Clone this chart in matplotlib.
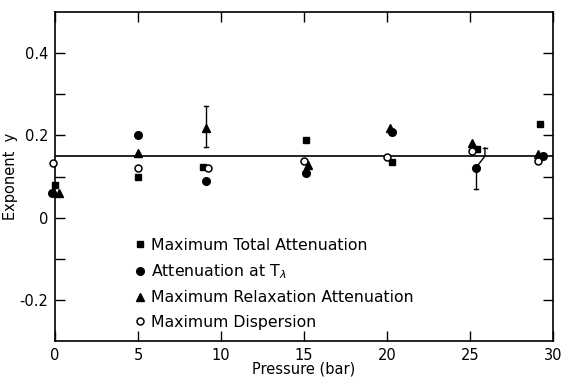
import matplotlib
matplotlib.use("Agg")
import matplotlib.pyplot as plt
from matplotlib.ticker import MultipleLocator, FixedFormatter, FixedLocator

# Data
sq_x = [0.0, 5.0, 8.9, 15.1, 20.3, 25.45, 29.2]
sq_y = [0.079, 0.100, 0.124, 0.190, 0.135, 0.168, 0.229]

ci_x = [-0.2, 5.0, 9.1, 15.1, 20.3, 25.35, 29.4]
ci_y = [0.059, 0.200, 0.090, 0.110, 0.209, 0.121, 0.151]

tr_x = [0.25, 5.0, 9.08, 15.25, 20.2, 25.1, 29.1]
tr_y = [0.059, 0.158, 0.219, 0.129, 0.219, 0.182, 0.156]

op_x = [-0.1, 5.0, 9.2, 15.0, 20.0, 25.1, 29.1]
op_y = [0.133, 0.121, 0.120, 0.137, 0.148, 0.162, 0.139]

tri_err_x = 9.08
tri_err_lo = 0.172
tri_err_hi = 0.271
ci_err_x = 25.35
ci_err_lo = 0.071
ci_err_top_x = 25.9
ci_err_top = 0.170

mean_y = 0.15

fig = plt.figure(figsize=(5.62, 3.79), dpi=100)
ax = fig.add_axes([0.098, 0.100, 0.886, 0.868])

ax.axhline(mean_y, color="black", lw=1.2, zorder=1)

ms = 5.5
kw = dict(ls="none", clip_on=False)
ax.plot(sq_x, sq_y, "s", color="black", ms=ms - 0.5, label="Maximum Total Attenuation", zorder=3, **kw)
ax.plot(ci_x, ci_y, "o", color="black", ms=ms, label=r"Attenuation at T$_\lambda$", zorder=3, **kw)
ax.plot(tr_x, tr_y, "^", color="black", ms=ms + 0.5, label="Maximum Relaxation Attenuation", zorder=3, **kw)
ax.plot(op_x, op_y, "o", mfc="white", mec="black", mew=1.1, ms=ms - 0.5, label="Maximum Dispersion", zorder=4, **kw)

# error bars
ax.plot([tri_err_x, tri_err_x], [tri_err_lo, tri_err_hi], color="black", lw=1)
for yy in (tri_err_lo, tri_err_hi):
    ax.plot([tri_err_x - 0.12, tri_err_x + 0.12], [yy, yy], color="black", lw=1)
ax.plot([ci_err_x, ci_err_x], [ci_err_lo, ci_y[5]], color="black", lw=1)
ax.plot([ci_err_x - 0.12, ci_err_x + 0.12], [ci_err_lo, ci_err_lo], color="black", lw=1)
ax.plot([ci_err_x, ci_err_top_x, ci_err_top_x], [ci_y[5], ci_err_top - 0.02, ci_err_top], color="black", lw=1)
ax.plot([ci_err_top_x - 0.12, ci_err_top_x + 0.12], [ci_err_top, ci_err_top], color="black", lw=1)

ax.set_xlim(0, 30)
ax.set_ylim(-0.3, 0.5)
ax.xaxis.set_major_locator(MultipleLocator(5))
ax.yaxis.set_major_locator(FixedLocator([-0.2, 0.0, 0.2, 0.4]))
ax.yaxis.set_major_formatter(FixedFormatter(["-0.2", "0", "0.2", "0.4"]))
ax.yaxis.set_minor_locator(FixedLocator([-0.1, 0.1, 0.3]))
ax.tick_params(which="both", direction="in", top=True, right=True, length=7, width=1, labelsize=10.5, pad=5)
for s in ax.spines.values():
    s.set_linewidth(1.2)

ax.set_xlabel("Pressure (bar)", fontsize=10.5, labelpad=-1)
ax.set_ylabel("Exponent  y", fontsize=10.5, labelpad=1)

ax.legend(loc="lower left", bbox_to_anchor=(0.145, 0.015), frameon=False, fontsize=11.3,
          handletextpad=0.3, handlelength=0.8, labelspacing=0.6, borderaxespad=0)

fig.savefig("out.png", dpi=100)
